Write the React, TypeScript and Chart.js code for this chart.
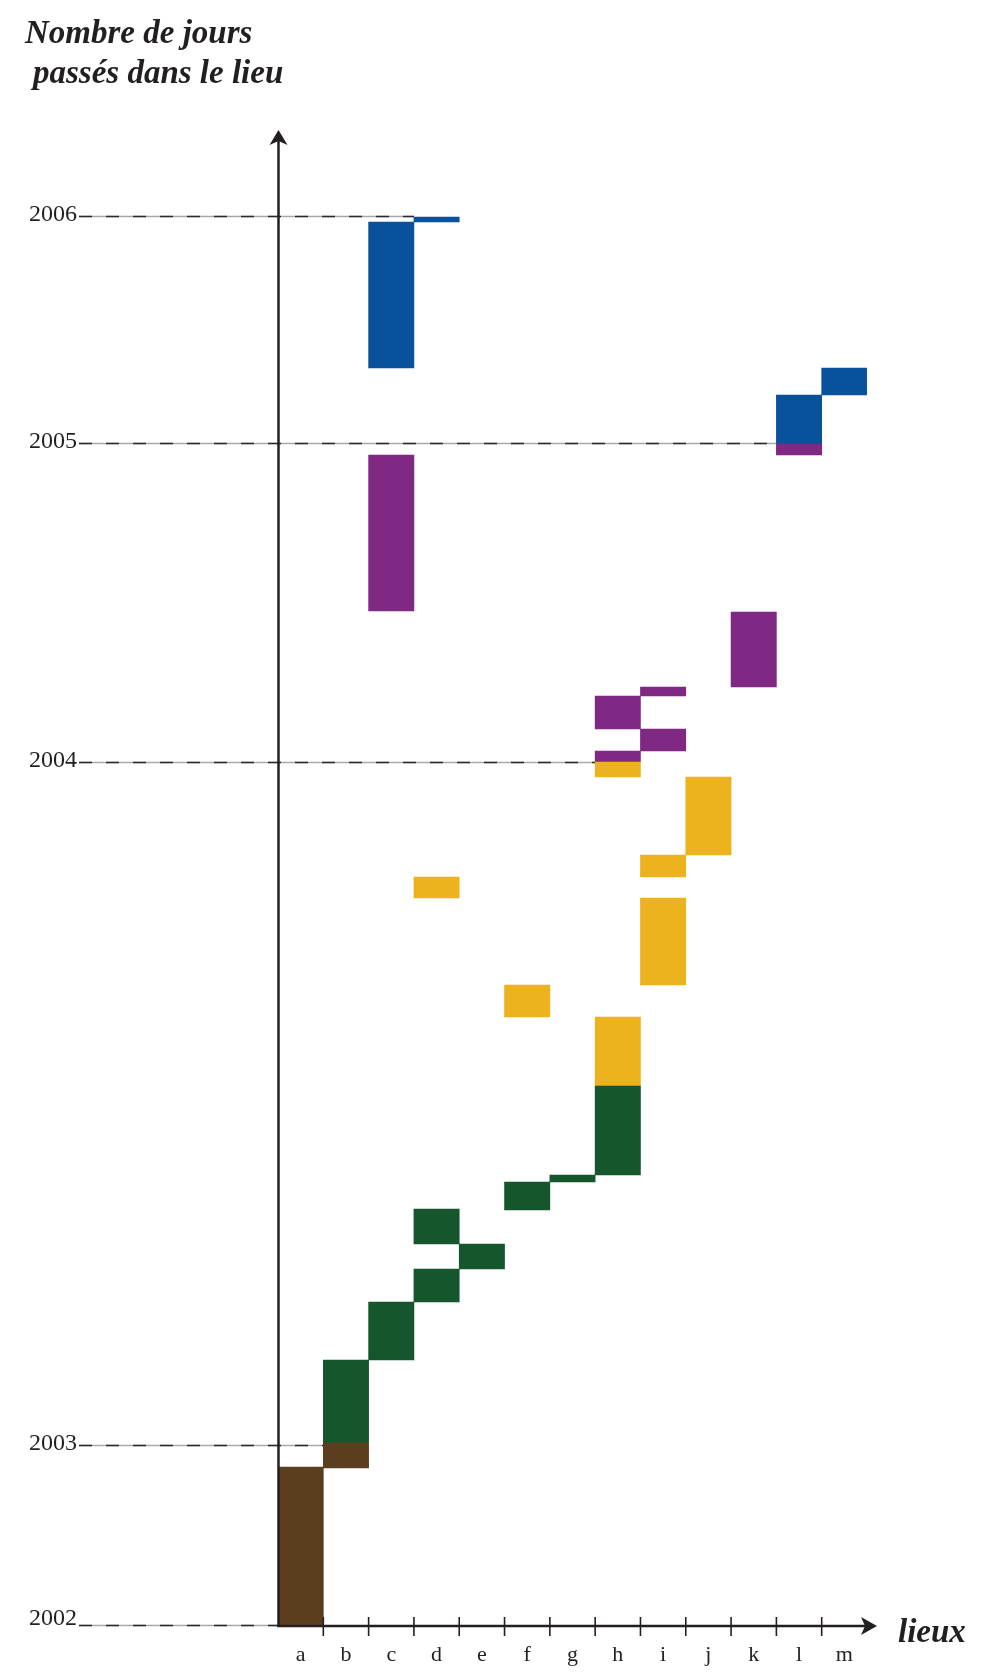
import { useEffect, useRef } from 'react';
import { Chart, registerables } from 'chart.js';

Chart.register(...registerables);

type Stay = [string, number, number];

// Places (x categories)
const places = ['a', 'b', 'c', 'd', 'e', 'f', 'g', 'h', 'i', 'j', 'k', 'l', 'm'];

// Year marks on the cumulative-days axis
const yearLabels = ['2002', '2003', '2004', '2005', '2006'];
const yearDays = [0, 180, 863, 1182, 1409];
// place whose stay crosses each year mark (dashed line ends at its left edge)
const yearLineEnds = ['a', 'b', 'h', 'l', 'd'];

// Stays: [place, start day, end day] (cumulative days)
const brownStays: Stay[] = [
  ['a', 0, 159],
  ['b', 158, 183],
];
const greenStays: Stay[] = [
  ['b', 183, 266],
  ['c', 266, 324],
  ['d', 324, 357],
  ['e', 357, 382],
  ['d', 382, 417],
  ['f', 416, 444],
  ['g', 444, 451],
  ['h', 451, 540],
];
const yellowStays: Stay[] = [
  ['h', 540, 609],
  ['f', 609, 641],
  ['i', 641, 728],
  ['d', 728, 749],
  ['i', 749, 771],
  ['j', 771, 849],
  ['h', 849, 864],
];
const purpleStays: Stay[] = [
  ['h', 864, 875],
  ['i', 875, 897],
  ['h', 897, 930],
  ['i', 930, 939],
  ['k', 939, 1014],
  ['c', 1015, 1171],
  ['l', 1171, 1182],
];
const blueStays: Stay[] = [
  ['l', 1182, 1231],
  ['m', 1231, 1258],
  ['c', 1258, 1404],
  ['d', 1404, 1409],
];

const groups: { name: string; color: string; stays: Stay[] }[] = [
  { name: 'brown', color: '#5B3E1D', stays: brownStays },
  { name: 'green', color: '#15562D', stays: greenStays },
  { name: 'yellow', color: '#ECB31F', stays: yellowStays },
  { name: 'purple', color: '#7F2884', stays: purpleStays },
  { name: 'blue', color: '#0A519C', stays: blueStays },
];

function buildLayers(stays: Stay[]) {
  const layers: ([number, number] | null)[][] = [];
  const seen: Record<string, number> = {};
  for (const [p, lo, hi] of stays) {
    const k = seen[p] ?? 0;
    seen[p] = k + 1;
    if (!layers[k]) layers[k] = places.map(() => null);
    layers[k][places.indexOf(p)] = [lo, hi];
  }
  return layers;
}

const SERIF = "'Liberation Serif', 'DejaVu Serif', serif";
const INK = '#231f20';

const decorPlugin = {
  id: 'decor',
  beforeDatasetsDraw(chart: any) {
    const ctx = chart.ctx;
    const xs = chart.scales.x;
    const ys = chart.scales.y;
    const half = (xs.getPixelForValue(1) - xs.getPixelForValue(0)) / 2;
    ctx.save();
    yearLabels.forEach((lab, i) => {
      const y = Math.round(ys.getPixelForValue(yearDays[i])) - 0.5;
      const endX = xs.getPixelForValue(places.indexOf(yearLineEnds[i])) - half;
      const startX = 79;
      ctx.lineWidth = 1.6;
      ctx.setLineDash([]);
      ctx.strokeStyle = '#a8a8a8';
      ctx.beginPath();
      ctx.moveTo(startX, y);
      ctx.lineTo(endX, y);
      ctx.stroke();
      ctx.strokeStyle = '#2a2a2a';
      ctx.setLineDash([13, 14]);
      ctx.beginPath();
      ctx.moveTo(startX, y);
      ctx.lineTo(endX, y);
      ctx.stroke();
      ctx.setLineDash([]);
      ctx.fillStyle = INK;
      ctx.font = `24px ${SERIF}`;
      ctx.textAlign = 'right';
      ctx.textBaseline = 'alphabetic';
      ctx.fillText(lab, 77, y + (i === 0 ? -1 : 4));
    });
    ctx.restore();
  },
  afterDatasetsDraw(chart: any) {
    const ctx = chart.ctx;
    const xs = chart.scales.x;
    const ys = chart.scales.y;
    const area = chart.chartArea;
    const x0 = area.left;
    const y0 = ys.getPixelForValue(0);
    const half = (xs.getPixelForValue(1) - xs.getPixelForValue(0)) / 2;
    ctx.save();
    ctx.strokeStyle = INK;
    ctx.fillStyle = INK;
    ctx.lineWidth = 2.5;
    // y axis
    ctx.beginPath();
    ctx.moveTo(x0 + 0.5, y0 + 1);
    ctx.lineTo(x0 + 0.5, area.top + 10);
    ctx.stroke();
    ctx.beginPath();
    ctx.moveTo(x0 + 0.5, area.top);
    ctx.lineTo(x0 + 9.5, area.top + 15);
    ctx.lineTo(x0 + 0.5, area.top + 11);
    ctx.lineTo(x0 - 8.5, area.top + 15);
    ctx.closePath();
    ctx.fill();
    // x axis
    const xEnd = area.right + 10;
    ctx.beginPath();
    ctx.moveTo(x0 - 1, y0);
    ctx.lineTo(xEnd - 6, y0);
    ctx.stroke();
    ctx.beginPath();
    ctx.moveTo(xEnd, y0);
    ctx.lineTo(xEnd - 16, y0 - 9);
    ctx.lineTo(xEnd - 12, y0);
    ctx.lineTo(xEnd - 16, y0 + 9);
    ctx.closePath();
    ctx.fill();
    // ticks
    ctx.lineWidth = 1.6;
    for (let i = 0; i < places.length - 1; i++) {
      const tx = xs.getPixelForValue(i) + half;
      ctx.beginPath();
      ctx.moveTo(tx, y0 - 9);
      ctx.lineTo(tx, y0 + 10);
      ctx.stroke();
    }
    // category labels
    ctx.font = `22px ${SERIF}`;
    ctx.textAlign = 'center';
    ctx.textBaseline = 'alphabetic';
    places.forEach((p, i) => {
      ctx.fillText(p, xs.getPixelForValue(i), y0 + 35);
    });
    // x axis title
    ctx.font = `bold italic 33px ${SERIF}`;
    ctx.textAlign = 'left';
    ctx.fillText('lieux', 898, y0 + 16);
    // y axis title
    ctx.font = `bold italic 33px ${SERIF}`;
    ctx.fillText('Nombre de jours', 25, 43);
    ctx.fillText('passés dans le lieu', 33, 83);
    ctx.restore();
  },
};

export default function App() {
  const ref = useRef<HTMLCanvasElement | null>(null);
  useEffect(() => {
    if (!ref.current) return;
    const datasets: any[] = [];
    groups.forEach((g) => {
      buildLayers(g.stays).forEach((layer, k) => {
        datasets.push({
          label: `${g.name}${k}`,
          data: layer,
          backgroundColor: g.color,
          borderWidth: 0,
          grouped: false,
          barPercentage: 1,
          categoryPercentage: 1,
        });
      });
    });
    const chart = new Chart(ref.current, {
      type: 'bar',
      data: { labels: places, datasets },
      options: {
        animation: false,
        responsive: false,
        devicePixelRatio: 1,
        layout: { padding: { left: 278, right: 134, top: 130, bottom: 49 } },
        scales: {
          x: { type: 'category', display: false, offset: true, grid: { display: false } },
          y: { type: 'linear', display: false, min: 0, max: 1496 },
        },
        plugins: { legend: { display: false }, tooltip: { enabled: false } },
      },
      plugins: [decorPlugin],
    });
    return () => chart.destroy();
  }, []);
  return (
    <div style={{ position: 'absolute', left: 0, top: 0, width: 1001, height: 1675, background: '#fff' }}>
      <canvas ref={ref} width={1001} height={1675} style={{ display: 'block' }} />
    </div>
  );
}
